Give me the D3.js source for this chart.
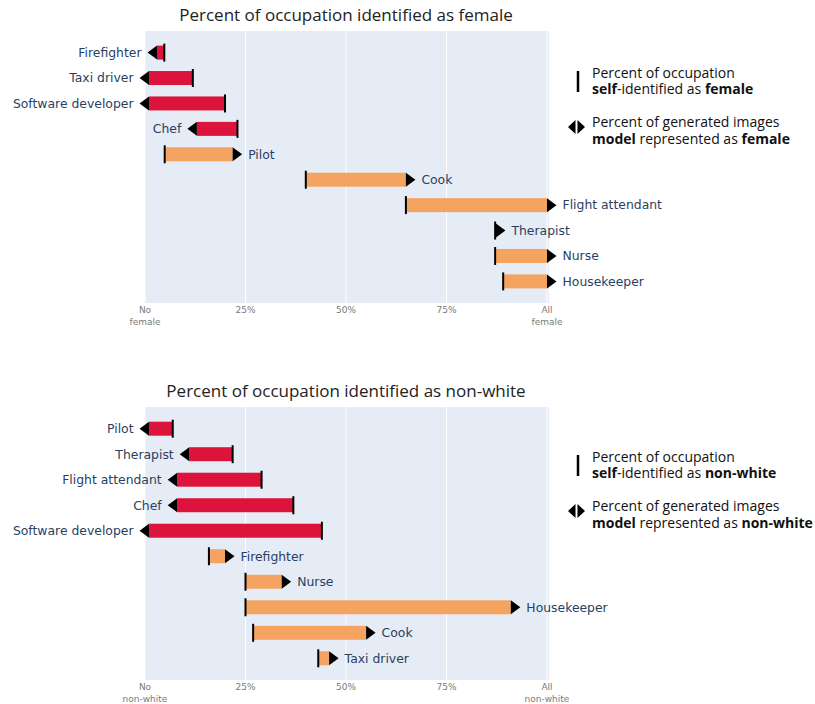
<!DOCTYPE html>
<html>
<head>
<meta charset="utf-8">
<script src="https://cdn.jsdelivr.net/npm/d3@7"></script>
<style>
  body { margin: 0; background: #fff; }
  .row-label { font-family: "DejaVu Sans", Verdana, sans-serif; font-size: 12.4px; fill: #2a3f5f; }
  .tick-label { font-family: "DejaVu Sans", Verdana, sans-serif; font-size: 9px; fill: #7a7a7a; }
  .title { font-family: "Open Sans", sans-serif; font-size: 17px; fill: #222; }
  .legend { font-family: "Open Sans", sans-serif; font-size: 14px; fill: #111; }
</style>
</head>
<body>
<div id="chart"></div>
<script>
// ---- data (fractions of the occupation) ----
var femaleOccupations = ["Firefighter", "Taxi driver", "Software developer", "Chef", "Pilot",
                         "Cook", "Flight attendant", "Therapist", "Nurse", "Housekeeper"];
var femaleSelf  = [0.048, 0.119, 0.199, 0.230, 0.049, 0.400, 0.649, 0.871, 0.871, 0.891];
var femaleModel = [0.030, 0.010, 0.010, 0.129, 0.218, 0.649, 1.000, 0.873, 1.000, 1.000];

var raceOccupations = ["Pilot", "Therapist", "Flight attendant", "Chef", "Software developer",
                       "Firefighter", "Nurse", "Housekeeper", "Cook", "Taxi driver"];
var raceSelf  = [0.069, 0.218, 0.290, 0.369, 0.440, 0.159, 0.250, 0.250, 0.269, 0.431];
var raceModel = [0.010, 0.110, 0.080, 0.080, 0.010, 0.199, 0.340, 0.910, 0.550, 0.458];

var tickValues = [0, 0.25, 0.5, 0.75, 1];
var femaleTickLabels = [["No", "female"], ["25%"], ["50%"], ["75%"], ["All", "female"]];
var raceTickLabels = [["No", "non-white"], ["25%"], ["50%"], ["75%"], ["All", "non-white"]];

var width = 815, height = 704;

var svg = d3.select("#chart").append("svg")
    .attr("width", width)
    .attr("height", height);

var x = d3.scaleLinear().domain([0, 1]).range([145, 547]);

drawPanel({
  top: 31, bottom: 303, legendY: 78,
  title: "Percent of occupation identified as female",
  word: "female",
  occupations: femaleOccupations, self: femaleSelf, model: femaleModel,
  tickLabels: femaleTickLabels
});

drawPanel({
  top: 407, bottom: 680, legendY: 462,
  title: "Percent of occupation identified as non-white",
  word: "non-white",
  occupations: raceOccupations, self: raceSelf, model: raceModel,
  tickLabels: raceTickLabels
});

function drawPanel(p) {
  var g = svg.append("g");

  // category rows, padded a bit like plotly autorange
  var n = p.occupations.length;
  var y = d3.scaleLinear().domain([-0.85, n - 1 + 0.85]).range([p.top, p.bottom]);

  // plot background + grid
  g.append("rect")
      .attr("x", x(0)).attr("y", p.top)
      .attr("width", x(1) - x(0) + 2).attr("height", p.bottom - p.top)
      .attr("fill", "#e5ecf6");

  g.selectAll("line.grid")
      .data(tickValues)
      .enter().append("line")
      .attr("class", "grid")
      .attr("x1", function(d) { return x(d); })
      .attr("x2", function(d) { return x(d); })
      .attr("y1", p.top).attr("y2", p.bottom)
      .attr("stroke", "#fff").attr("stroke-width", 1);

  // tick labels (some on two lines)
  var ticks = g.selectAll("text.tick-label")
      .data(tickValues)
      .enter().append("text")
      .attr("class", "tick-label")
      .attr("text-anchor", "middle")
      .attr("x", function(d) { return x(d); })
      .attr("y", p.bottom + 10);

  ticks.each(function(d, i) {
    var t = d3.select(this);
    p.tickLabels[i].forEach(function(line, j) {
      t.append("tspan").attr("x", x(d)).attr("dy", j == 0 ? 0 : 12).text(line);
    });
  });

  // title
  g.append("text")
      .attr("class", "title")
      .attr("text-anchor", "middle")
      .attr("x", (x(0) + x(1)) / 2)
      .attr("y", p.top - 10)
      .text(p.title);

  var rows = p.occupations.map(function(name, i) {
    return {name: name, self: p.self[i], model: p.model[i], i: i, up: p.model[i] >= p.self[i]};
  });

  var barH = 14, triW = 9.5, triH = 14, lineH = 18;

  // bars from self value to model value
  g.selectAll("rect.bar")
      .data(rows)
      .enter().append("rect")
      .attr("class", "bar")
      .attr("x", function(d) { return x(Math.min(d.self, d.model)); })
      .attr("y", function(d) { return y(d.i) - barH / 2; })
      .attr("width", function(d) { return Math.abs(x(d.model) - x(d.self)); })
      .attr("height", barH)
      .attr("fill", function(d) { return d.up ? "#f4a460" : "#dc143c"; });

  // self-identified marker
  g.selectAll("line.self")
      .data(rows)
      .enter().append("line")
      .attr("class", "self")
      .attr("x1", function(d) { return x(d.self); })
      .attr("x2", function(d) { return x(d.self); })
      .attr("y1", function(d) { return y(d.i) - lineH / 2; })
      .attr("y2", function(d) { return y(d.i) + lineH / 2; })
      .attr("stroke", "#000").attr("stroke-width", 2);

  // model arrow head
  g.selectAll("path.arrow")
      .data(rows)
      .enter().append("path")
      .attr("class", "arrow")
      .attr("d", function(d) {
        var bx = x(d.model), cy = y(d.i), s = d.up ? 1 : -1;
        return "M" + bx + "," + (cy - triH / 2) + "L" + (bx + s * triW) + "," + cy +
               "L" + bx + "," + (cy + triH / 2) + "Z";
      })
      .attr("fill", "#000");

  // occupation labels beyond the arrow tip
  g.selectAll("text.row-label")
      .data(rows)
      .enter().append("text")
      .attr("class", "row-label")
      .attr("x", function(d) { return x(d.model) + (d.up ? triW + 6 : -triW - 6); })
      .attr("y", function(d) { return y(d.i); })
      .attr("dy", ".35em")
      .attr("text-anchor", function(d) { return d.up ? "start" : "end"; })
      .text(function(d) { return d.name; });

  // legend
  var lx = 592, ly = p.legendY;
  g.append("line")
      .attr("x1", 578).attr("x2", 578)
      .attr("y1", ly - 7).attr("y2", ly + 14)
      .attr("stroke", "#000").attr("stroke-width", 2.5);

  legendText(g, lx, ly, [["Percent of occupation", false]]);
  legendText(g, lx, ly + 16, [["self", true], ["-identified as ", false], [p.word, true]]);

  var iy = ly + 49;
  g.append("path")
      .attr("d", "M575.5," + (iy - 7) + "L568," + iy + "L575.5," + (iy + 7) + "Z")
      .attr("fill", "#000");
  g.append("path")
      .attr("d", "M577.5," + (iy - 7) + "L585," + iy + "L577.5," + (iy + 7) + "Z")
      .attr("fill", "#000");

  legendText(g, lx, ly + 49, [["Percent of generated images", false]]);
  legendText(g, lx, ly + 66, [["model", true], [" represented as ", false], [p.word, true]]);
}

function legendText(g, lx, ly, parts) {
  var t = g.append("text").attr("class", "legend").attr("x", lx).attr("y", ly);
  parts.forEach(function(part) {
    t.append("tspan")
        .attr("font-weight", part[1] ? "bold" : "normal")
        .text(part[0]);
  });
}
</script>
</body>
</html>
